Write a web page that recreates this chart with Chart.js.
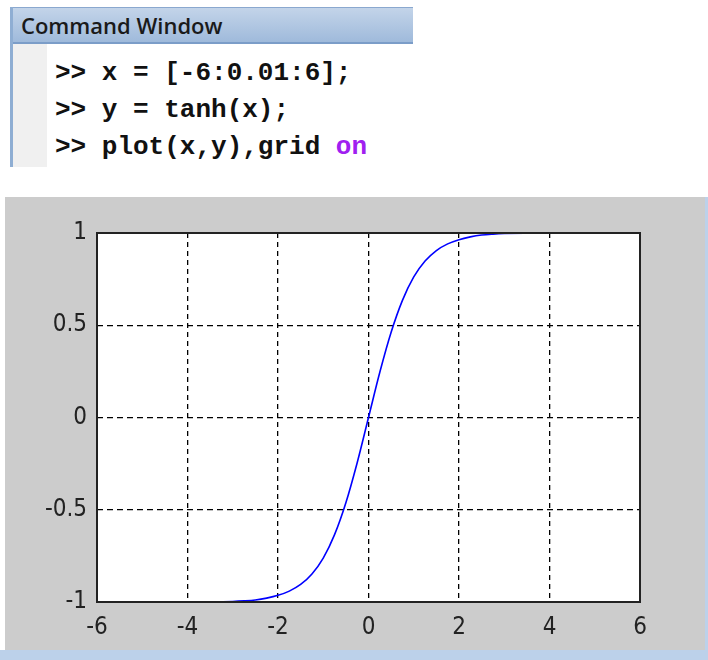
<!DOCTYPE html>
<html>
<head>
<meta charset="utf-8">
<script src="https://cdn.jsdelivr.net/npm/chart.js@4"></script>
<style>
  body { margin: 0; width: 708px; height: 660px; background: #fff; position: relative; overflow: hidden; }
  #cmd { position: absolute; left: 10px; top: 7px; width: 400px; height: 160px; border-left: 3px solid #8faed3; }
  #cmdHead { height: 34px; background: linear-gradient(#c3d4e9, #9fbadb); border-top: 1px solid #8aa8cf; border-bottom: 2px solid #7b9dc8;
    font: 600 22px "Open Sans", "Noto Sans", sans-serif; color: #1a1a1a; line-height: 34px; padding-left: 8px; }
  #gutter { position: absolute; left: 0; top: 37px; width: 34px; bottom: 0; background: #f0f0f0; }
  .ln { position: absolute; left: 42px; font: 600 26px "Liberation Mono", monospace; color: #111; white-space: pre; line-height: 30px; }
  .kw { color: #a020f0; }
  #fig { position: absolute; left: 5px; top: 197px; width: 700px; height: 453px; background: #cccccc; }
  #strip { position: absolute; left: 0; top: 650px; width: 708px; height: 10px; background: #bcd1ea; }
  #rstrip { position: absolute; left: 705px; top: 197px; width: 3px; height: 463px; background: #bcd1ea; }
</style>
</head>
<body>
<div id="cmd">
  <div id="cmdHead">Command Window</div>
  <div id="gutter"></div>
  <div class="ln" style="top:51px">&gt;&gt; x = [-6:0.01:6];</div>
  <div class="ln" style="top:88px">&gt;&gt; y = tanh(x);</div>
  <div class="ln" style="top:125px">&gt;&gt; plot(x,y),grid <span class="kw">on</span></div>
</div>
<div id="fig"><canvas id="myChart" width="700" height="453"></canvas></div>
<div id="strip"></div>
<div id="rstrip"></div>
<script>
const xValues = [-6, -5, -4, -3, -2.75, -2.5, -2.25, -2, -1.75, -1.5, -1.25, -1, -0.75, -0.5, -0.25, 0,
                 0.25, 0.5, 0.75, 1, 1.25, 1.5, 1.75, 2, 2.25, 2.5, 2.75, 3, 4, 5, 6];
const yValues = [-1.0, -1.0, -1.0, -0.997, -0.994, -0.989, -0.979, -0.964, -0.941, -0.905, -0.848, -0.762, -0.635, -0.462, -0.245, 0,
                 0.245, 0.462, 0.635, 0.762, 0.848, 0.905, 0.941, 0.964, 0.979, 0.989, 0.994, 0.997, 1.0, 1.0, 1.0];
const xTicks = [-6, -4, -2, 0, 2, 4, 6];
const yTicks = [-1, -0.5, 0, 0.5, 1];

const ctx = document.getElementById('myChart');

const plotBox = {
    id: 'plotBox',
    beforeDraw(chart) {
        const a = chart.chartArea, c = chart.ctx;
        c.save();
        c.fillStyle = '#ffffff';
        c.fillRect(a.left, a.top, a.right - a.left, a.bottom - a.top);
        c.restore();
    },
    afterDraw(chart) {
        const a = chart.chartArea, c = chart.ctx;
        c.save();
        c.strokeStyle = '#222';
        c.lineWidth = 2;
        c.strokeRect(a.left, a.top, a.right - a.left, a.bottom - a.top);
        c.restore();
    }
};

const tickFont = { family: '"DejaVu Sans Condensed", "Liberation Sans Narrow", "Liberation Sans", sans-serif', size: 24 };

new Chart(ctx, {
    type: 'line',
    data: {
        datasets: [{
            data: xValues.map((x, i) => ({ x: x, y: yValues[i] })),
            borderColor: '#0000ff',
            borderWidth: 1.6,
            pointRadius: 0,
            cubicInterpolationMode: 'monotone',
            fill: false
        }]
    },
    options: {
        responsive: false,
        animation: false,
        layout: { padding: { left: 0, right: 65, top: 36, bottom: 0 } },
        plugins: { legend: { display: false }, tooltip: { enabled: false } },
        scales: {
            x: {
                type: 'linear',
                min: -6,
                max: 6,
                afterBuildTicks: axis => { axis.ticks = xTicks.map(v => ({ value: v })); },
                afterFit: axis => { axis.height = 48; },
                grid: { color: '#000', lineWidth: 1.3, drawTicks: false },
                border: { display: false, dash: [5, 4] },
                ticks: { color: '#222', font: tickFont, padding: 11, maxRotation: 0, callback: v => String(v) }
            },
            y: {
                min: -1,
                max: 1,
                afterBuildTicks: axis => { axis.ticks = yTicks.map(v => ({ value: v })); },
                afterFit: axis => { axis.width = 92; },
                grid: { color: '#000', lineWidth: 1.3, drawTicks: false },
                border: { display: false, dash: [6, 4] },
                ticks: { color: '#222', font: tickFont, padding: 10, callback: v => String(v) }
            }
        }
    },
    plugins: [plotBox]
});
</script>
</body>
</html>
